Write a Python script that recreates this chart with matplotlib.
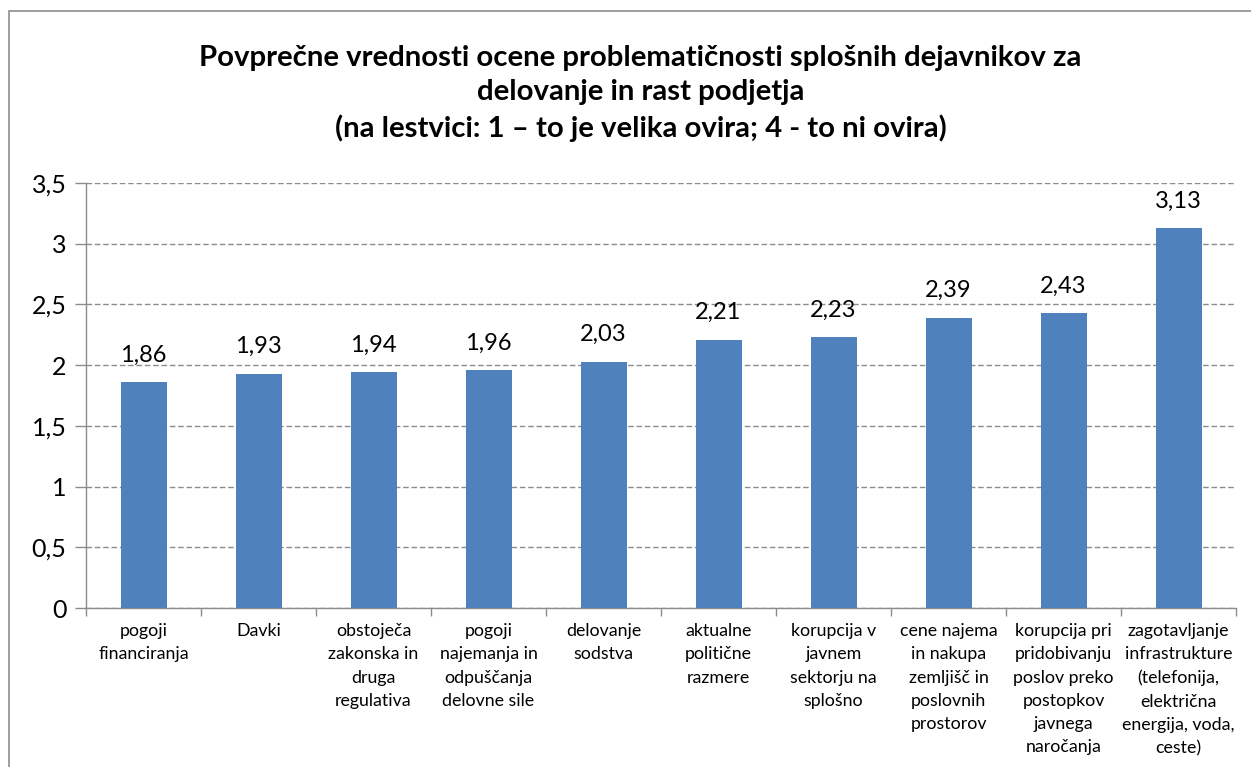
import matplotlib.pyplot as plt
import matplotlib.ticker as mtick
from matplotlib.patches import Rectangle

categories = [
    "pogoji\nfinanciranja",
    "Davki",
    "obstoječa\nzakonska in\ndruga\nregulativa",
    "pogoji\nnajemanja in\nodpuščanja\ndelovne sile",
    "delovanje\nsodstva",
    "aktualne\npolitične\nrazmere",
    "korupcija v\njavnem\nsektorju na\nsplošno",
    "cene najema\nin nakupa\nzemljišč in\nposlovnih\nprostorov",
    "korupcija pri\npridobivanju\nposlov preko\npostopkov\njavnega\nnaročanja",
    "zagotavljanje\ninfrastrukture\n(telefonija,\nelektrična\nenergija, voda,\nceste)",
]
values = [1.86, 1.93, 1.94, 1.96, 2.03, 2.21, 2.23, 2.39, 2.43, 3.13]
y_ticks = [0, 0.5, 1, 1.5, 2, 2.5, 3, 3.5]

title = ("Povprečne vrednosti ocene problematičnosti splošnih dejavnikov za\n"
         "delovanje in rast podjetja\n"
         "(na lestvici: 1 – to je velika ovira; 4 - to ni ovira)")

plt.rcParams["font.family"] = ["Lato", "DejaVu Sans"]

fig = plt.figure(figsize=(12.51, 7.67), dpi=100)
fig.patches.append(Rectangle((9 / 1251, -0.1), 1.2, 1 - 11 / 767 + 0.1,
                             transform=fig.transFigure, fill=False,
                             edgecolor="#8c8c8c", linewidth=1.2))

ax = fig.add_axes([86 / 1251, 1 - 608 / 767, (1236 - 86) / 1251, (608 - 183) / 767])

x = list(range(len(values)))
ax.bar(x, values, width=0.4, color="#4F81BD", zorder=3)

for xi, v in zip(x, values):
    ax.annotate(f"{v:.2f}".replace(".", ","), (xi, v), xytext=(0, 19.5),
                textcoords="offset points", ha="center", va="center", fontsize=17)

ax.set_xlim(-0.5, len(values) - 0.5)
ax.set_ylim(0, 3.5)
ax.set_yticks(y_ticks)
ax.yaxis.set_major_formatter(mtick.FuncFormatter(lambda v, p: f"{v:g}".replace(".", ",")))
ax.tick_params(axis="y", labelsize=18, length=8, width=1, color="#8c8c8c", pad=6)
ax.grid(axis="y", linestyle=(0, (4, 2)), color="#8c8c8c", linewidth=1, zorder=0)

ax.set_xticks([i - 0.5 for i in range(len(values) + 1)])
ax.set_xticklabels([])
ax.set_xticks(x, minor=True)
ax.set_xticklabels(categories, minor=True, fontsize=12.8, linespacing=1.55, va="top")
ax.tick_params(axis="x", which="major", length=6, width=1, color="#8c8c8c")
ax.tick_params(axis="x", which="minor", length=0, pad=11)

for side in ["top", "right"]:
    ax.spines[side].set_visible(False)
for side in ["left", "bottom"]:
    ax.spines[side].set_color("#8c8c8c")
    ax.spines[side].set_linewidth(1)

fig.text(0.512, 1 - 93.5 / 767, title, ha="center", va="center", fontsize=21.2,
         fontweight="bold", linespacing=1.4)

fig.savefig("out.png", dpi=100)
